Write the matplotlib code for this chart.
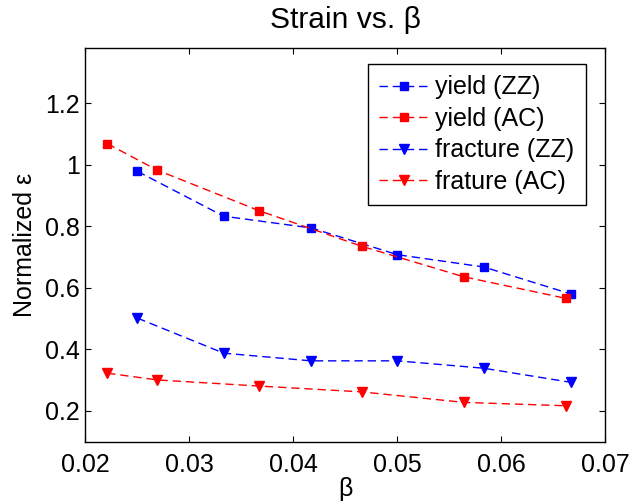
import matplotlib
matplotlib.use("Agg")
import matplotlib.pyplot as plt
from matplotlib.ticker import FormatStrFormatter

# ── Datos ─────────────────────────────────────────────────
beta_zz = [0.0250, 0.0333, 0.0417, 0.0500, 0.0583, 0.0667]
beta_ac = [0.0221, 0.0269, 0.0367, 0.0466, 0.0564, 0.0662]

yield_zz    = [0.979, 0.833, 0.795, 0.708, 0.668, 0.580]
yield_ac    = [1.069, 0.983, 0.851, 0.735, 0.636, 0.566]
fracture_zz = [0.502, 0.388, 0.363, 0.363, 0.339, 0.293]
fracture_ac = [0.323, 0.301, 0.281, 0.262, 0.228, 0.217]

x_ticks = [0.02, 0.03, 0.04, 0.05, 0.06, 0.07]
y_ticks = [0.2, 0.4, 0.6, 0.8, 1.0, 1.2]

plt.rcParams["font.family"] = ["Liberation Sans", "DejaVu Sans"]
plt.rcParams["font.size"] = 18

fig = plt.figure(figsize=(6.32, 5.01), dpi=100)
ax = fig.add_axes([0.135, 0.117, 0.823, 0.788])

dash = (0, (6, 3.5))
ax.plot(beta_zz, yield_zz, color="blue", ls=dash, lw=1.0, marker="s",
        ms=5.5, label="yield (ZZ)")
ax.plot(beta_ac, yield_ac, color="red", ls=dash, lw=1.0, marker="s",
        ms=5.5, label="yield (AC)")
ax.plot(beta_zz, fracture_zz, color="blue", ls=dash, lw=1.0, marker="v",
        ms=7, label="fracture (ZZ)")
ax.plot(beta_ac, fracture_ac, color="red", ls=dash, lw=1.0, marker="v",
        ms=7, label="frature (AC)")

ax.set_xlim(0.02, 0.07)
ax.set_ylim(0.098, 1.381)
ax.set_xticks(x_ticks)
ax.set_yticks(y_ticks)
ax.xaxis.set_major_formatter(FormatStrFormatter("%g"))
ax.yaxis.set_major_formatter(FormatStrFormatter("%g"))
ax.tick_params(direction="in", length=4.5, width=0.8, top=True, right=True)
ax.tick_params(axis="x", pad=8)
ax.tick_params(axis="y", pad=4)
for s in ax.spines.values():
    s.set_linewidth(1.0)

ax.set_title("Strain vs. β", pad=14)
ax.set_xlabel("β", labelpad=0)
ax.set_ylabel("Normalized ε", labelpad=6)

leg = ax.legend(loc="upper right", bbox_to_anchor=(0.9623, 0.958),
                borderaxespad=0, fancybox=False, framealpha=1,
                edgecolor="black", handlelength=2.0, handletextpad=0.25,
                labelspacing=0.3, borderpad=0.45)
leg.get_frame().set_linewidth(1.0)

fig.savefig("out.png", dpi=100)
